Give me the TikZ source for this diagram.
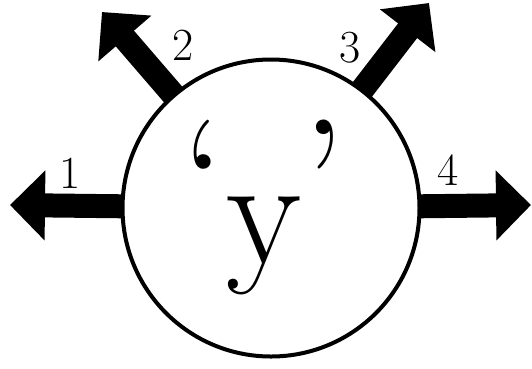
\documentclass[tikz,border=0pt]{standalone}
\usepackage{fontspec}
\usepackage{tikz}
\usetikzlibrary{arrows.meta,positioning}

\newcommand{\bigquote}[1]{\raisebox{20pt}{\fontsize{178}{180}\selectfont #1}}

\begin{document}
\begin{tikzpicture}[x=1pt, y=-1pt,
  arm/.style={line width=24pt, -{Triangle[length=35pt,width=68pt]}},
  num/.style={font=\fontsize{46}{50}\selectfont, inner sep=0pt}]
  \useasboundingbox (0,0) rectangle (532,368);

  % Define nodes
  \node (ball) [circle, draw, line width=4pt, minimum size=297pt, inner sep=0pt, outer sep=0pt] at (271,208) {};
  \node (word) [anchor=base, inner sep=0pt, font=\fontsize{155}{160}\selectfont] at (264,263) {\bigquote{‘}y\bigquote{’}};
  \coordinate (e1) at (10,205);
  \coordinate (e2) at (102,12);
  \coordinate (e3) at (429,3);
  \coordinate (e4) at (531,205);

  % Draw arrows
  \draw[arm] (ball) -- (e1);
  \draw[arm] (ball) -- (e2);
  \draw[arm] (ball) -- (e3);
  \draw[arm] (ball) -- (e4);

  % Add labels next to the arrows
  \node (n1) [num] at (70,173) {1};
  \node (n2) [num] at (183,45) {2};
  \node (n3) [num] at (350,48) {3};
  \node (n4) [num] at (448,170) {4};
\end{tikzpicture}
\end{document}
